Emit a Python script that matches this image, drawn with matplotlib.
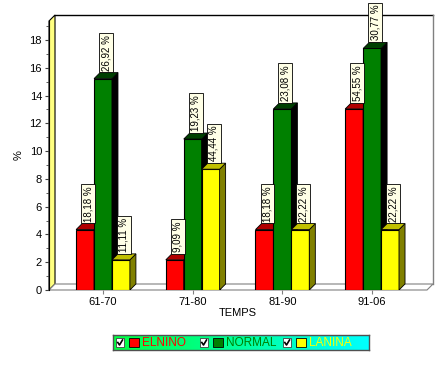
import matplotlib
matplotlib.use("Agg")
import matplotlib.pyplot as plt
import numpy as np
from matplotlib.patches import Polygon, Rectangle
from matplotlib.ticker import MultipleLocator

plt.rcParams['font.family'] = ['Liberation Sans', 'DejaVu Sans']

# ---------- données ----------
periodes = ['61-70', '71-80', '81-90', '91-06']
series = ['ELNINO', 'NORMAL', 'LANINA']
hauteurs = {
    'ELNINO': [4.35, 2.17, 4.35, 13.04],
    'NORMAL': [15.22, 10.87, 13.04, 17.39],
    'LANINA': [2.17, 8.70, 4.35, 4.35],
}
etiquettes = {
    'ELNINO': [18.18, 9.09, 18.18, 54.55],
    'NORMAL': [26.92, 19.23, 23.08, 30.77],
    'LANINA': [11.11, 44.44, 22.22, 22.22],
}
yticks = [0, 2, 4, 6, 8, 10, 12, 14, 16, 18]
# ----------------------------------------------------

# couleurs : face, côté, dessus, texte légende
couleurs = {
    'ELNINO': ('#FF0000', '#800000', '#B00000', '#FF0000'),
    'NORMAL': ('#008000', '#000000', '#004000', '#008000'),
    'LANINA': ('#FFFF00', '#808000', '#C0C000', '#FFFF00'),
}

W, H = 445, 366
fig = plt.figure(figsize=(W / 100, H / 100), dpi=100)
ax = fig.add_axes([49 / W, 76 / H, 378 / W, 269 / H])

xl, xr = -0.602, 3.612
ytop = 19.37
dx, dy = 0.067, 0.432  # profondeur 3D (~6 px)
ax.set_xlim(xl, xr)
ax.set_ylim(0, ytop)

# murs et sol
ax.add_patch(Polygon([(xl + dx, dy), (xr + dx, dy), (xr + dx, ytop + dy), (xl + dx, ytop + dy)],
                     closed=True, fc='white', ec='none', clip_on=False, zorder=0))
ax.plot([xl + dx, xr + dx], [ytop + dy, ytop + dy], color='black', lw=1, clip_on=False, zorder=1)
ax.plot([xr + dx, xr + dx], [dy, ytop + dy], color='#808080', lw=1, clip_on=False, zorder=1)
ax.add_patch(Polygon([(xl, 0), (xl + dx, dy), (xl + dx, ytop + dy), (xl, ytop)],
                     closed=True, fc='#FFFF80', ec='black', lw=0.8, clip_on=False, zorder=1))
ax.add_patch(Polygon([(xl, 0), (xr, 0), (xr + dx, dy), (xl + dx, dy)],
                     closed=True, fc='white', ec='#808080', lw=0.8, clip_on=False, zorder=1))

x = np.arange(len(periodes))
larg = 0.2
for k, s in enumerate(series):
    face, cote, dessus, _ = couleurs[s]
    pos = x + (k - 1) * larg
    z = 3 + k
    ax.bar(pos, hauteurs[s], width=larg, color=face, edgecolor='black', lw=0.8, zorder=z)
    for xi, h, p in zip(pos, hauteurs[s], etiquettes[s]):
        x0, x1 = xi - larg / 2, xi + larg / 2
        ax.add_patch(Polygon([(x1, 0), (x1 + dx, dy), (x1 + dx, h + dy), (x1, h)],
                             closed=True, fc=cote, ec='black', lw=0.6, zorder=z))
        ax.add_patch(Polygon([(x0, h), (x1, h), (x1 + dx, h + dy), (x0 + dx, h + dy)],
                             closed=True, fc=dessus, ec='black', lw=0.6, zorder=z))
        txt = f"{p:.2f}".replace('.', ',') + ' %'
        ax.annotate(txt, xy=(xi + dx / 2, h + dy), xytext=(0, 1.5), textcoords='offset points',
                    rotation=90, ha='center', va='bottom', fontsize=7,
                    bbox=dict(boxstyle='square,pad=0.2', fc='#FFFFE6', ec='black', lw=0.6),
                    annotation_clip=False, zorder=10)

for sp in ['top', 'right', 'bottom']:
    ax.spines[sp].set_visible(False)
ax.spines['left'].set_linewidth(0.8)
ax.set_yticks(yticks)
ax.yaxis.set_minor_locator(MultipleLocator(1))
ax.tick_params(axis='y', which='major', length=3, labelsize=8, pad=2, color='#404040')
ax.tick_params(axis='y', which='minor', length=2, color='#404040')
ax.set_xticks(x)
ax.set_xticklabels(periodes)
ax.tick_params(axis='x', length=3, labelsize=8, pad=2, color='#808080')
ax.set_xlabel('TEMPS', fontsize=8, labelpad=1)
ax.set_ylabel('%', fontsize=8, labelpad=4)

# légende
lg = fig.add_axes([113 / W, 16 / H, 256 / W, 15 / H])
grad = np.linspace(0, 1, 256)
img = np.zeros((1, 256, 3))
img[0, :, 1] = 1.0
img[0, :, 2] = 0.25 + 0.75 * grad
lg.imshow(img, extent=[0, 256, 0, 15], aspect='auto')
lg.set_xlim(0, 256)
lg.set_ylim(0, 15)
lg.set_xticks([])
lg.set_yticks([])
for sp in lg.spines.values():
    sp.set_color('#505050')
    sp.set_linewidth(1)

pos_leg = [3, 87, 170]
for s, x0 in zip(series, pos_leg):
    face, _, _, tcol = couleurs[s]
    lg.add_patch(Rectangle((x0, 3), 8, 9, fc='white', ec='#404040', lw=0.6))
    lg.plot([x0 + 1.8, x0 + 3.5, x0 + 6.5], [7.5, 5, 10], color='black', lw=1.2)
    lg.add_patch(Rectangle((x0 + 13, 3), 10, 9, fc=face, ec='black', lw=0.6))
    lg.text(x0 + 26, 7.3, s, color=tcol, fontsize=8.5, va='center', ha='left')

fig.savefig('out.png', dpi=100)
